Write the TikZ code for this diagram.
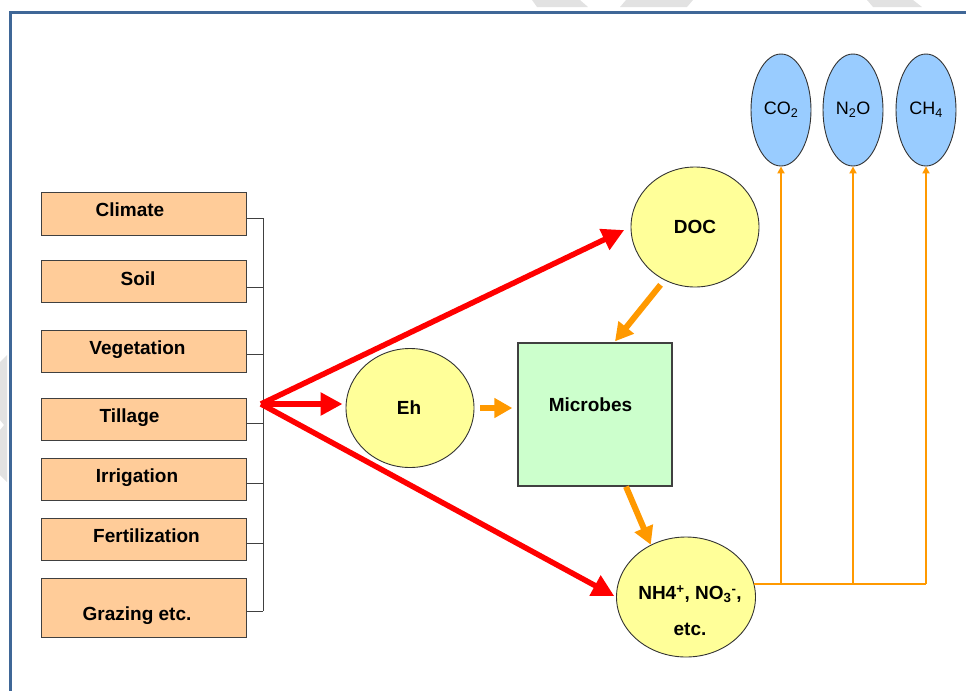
\documentclass[tikz,border=0pt]{standalone}
\usepackage{fontspec}
\setmainfont{Liberation Sans}
\usetikzlibrary{shapes.geometric,arrows.meta,calc}
\definecolor{peach}{HTML}{FFCC99}
\definecolor{lyellow}{HTML}{FFFF99}
\definecolor{lgreen}{HTML}{CCFFCC}
\definecolor{lblue}{HTML}{99CCFF}
\definecolor{orng}{HTML}{FF9900}
\definecolor{framec}{HTML}{3F6797}
\definecolor{boxline}{HTML}{404040}
\definecolor{wm}{HTML}{E2E2E2}
\begin{document}
\begin{tikzpicture}[x=1pt,y=-1pt,
  factor/.style={draw=boxline,line width=1.3pt,fill=peach,rectangle,inner sep=0pt,minimum width=205pt,anchor=north west},
  lbl/.style={inner sep=0pt,text height=13.6pt,text depth=0pt,font=\fontsize{19}{21}\selectfont\bfseries},
  bubble/.style={draw=black!80,line width=0.9pt,fill=lyellow,ellipse,inner sep=0pt},
  gas/.style={draw=black!80,line width=0.9pt,fill=lblue,ellipse,inner sep=0pt,minimum width=60pt,minimum height=112pt,font=\fontsize{18}{20}\selectfont},
  bracket/.style={draw=boxline,line width=1.3pt},
  redarrow/.style={draw=red,line width=5.5pt,-{Triangle[length=22pt,width=22pt]}},
  orarrow/.style={draw=orng,line width=6pt,-{Triangle[length=18pt,width=19pt]}},
  thinor/.style={draw=orng,line width=2pt,-{Triangle[length=7pt,width=7pt]}},
  thinline/.style={draw=orng,line width=2pt}
]
\useasboundingbox (0,0) rectangle (966,691);
% watermark shapes
\fill[wm] (532,0) -- (580,0) -- (588,7) -- (537,7) -- cycle;
\fill[wm] (626,0) -- (693,0) -- (687,7) -- (620,7) -- cycle;
\fill[wm] (867,0) -- (913,0) -- (922,7) -- (873,7) -- cycle;
\fill[wm] (0,362) -- (7,355) -- (7,482) -- (0,475) -- (0,430) -- (4,425) -- (0,420) -- cycle;
% frame
\draw[framec,line width=3pt] (966,12) -- (10,12) -- (10,691);

% factor boxes
\node[factor,minimum height=43pt] (climate) at (41,192) {};
\node[factor,minimum height=42pt] (soil) at (41,260) {};
\node[factor,minimum height=42pt] (veg) at (41,330) {};
\node[factor,minimum height=42pt] (till) at (41,398) {};
\node[factor,minimum height=42pt] (irr) at (41,458) {};
\node[factor,minimum height=42pt] (fert) at (41,518) {};
\node[factor,minimum height=59pt] (graz) at (41,578) {};
\node[lbl] (climatet) at (130,210) {Climate};
\node[lbl] (soilt) at (138,279) {Soil};
\node[lbl] (vegt) at (137.5,347.5) {Vegetation};
\node[lbl] (tillt) at (129.5,415.5) {Tillage};
\node[lbl] (irrt) at (137,476) {Irrigation};
\node[lbl] (fertt) at (146.5,536) {Fertilization};
\node[lbl] (grazt) at (137,614) {Grazing etc.};

% bracket
\foreach \b/\dy in {climate/4,soil/6,veg/3,till/4,irr/4,fert/4,graz/3}{
  \coordinate (\b s) at ($(\b.east)+(0,\dy)$);
  \coordinate (\b e) at ($(\b s)+(16,0)$);
  \draw[bracket] (\b s) -- (\b e);
}
\draw[bracket] (climatee) -- (graze);
\coordinate (src) at (261,404);

% central nodes
\node[bubble,minimum width=128pt,minimum height=119pt] (Eh) at (410,408) {};
\node[lbl] (Eht) at (409,408) {Eh};
\node[bubble,minimum width=128pt,minimum height=120pt] (DOC) at (695,227) {};
\node[lbl] (DOCt) at (695,227) {DOC};
\node[bubble,minimum width=139pt,minimum height=120pt] (NH4) at (686,597) {};
\node[lbl] (NH4t) at (690,592.5) {NH4\textsuperscript{+}, NO\textsubscript{3}\textsuperscript{-},};
\node[lbl] (etct) at (690,628.5) {etc.};
\node[draw=boxline,line width=1.3pt,fill=lgreen,rectangle,inner sep=0pt,minimum width=154pt,minimum height=143pt] (Mic) at (595,414.5) {};
\node[lbl] (Mict) at (590.5,405) {Microbes};

% gases
\node[gas] (CO2) at (781,110) {CO\textsubscript{2}};
\node[gas] (N2O) at (853,110) {N\textsubscript{2}O};
\node[gas] (CH4) at (926,110) {CH\textsubscript{4}};

% red arrows
\draw[redarrow,shorten >=7pt] (src) -- (DOC.west);
\draw[redarrow,shorten >=3pt] (src) -- (src -| Eh.west);
\draw[redarrow,shorten >=2pt] (src) -- (NH4.west);

% orange arrows
\draw[orarrow,shorten <=6pt,shorten >=5pt] (Eh.east) -- (Eh.east -| Mic.west);
\draw[orarrow,shorten <=6pt] (DOC.240) -- ($(Mic.north)+(20,-1)$);
\draw[orarrow] ($(Mic.south)+(31,0)$) -- (NH4.124);

% thin orange lines to gases
\coordinate (j) at (NH4.11);
\draw[thinline] (j) -- (j -| CH4.south);
\draw[thinor] (j -| CO2.south) -- (CO2.south);
\draw[thinor] (j -| N2O.south) -- (N2O.south);
\draw[thinor] (j -| CH4.south) -- (CH4.south);
\end{tikzpicture}
\end{document}
